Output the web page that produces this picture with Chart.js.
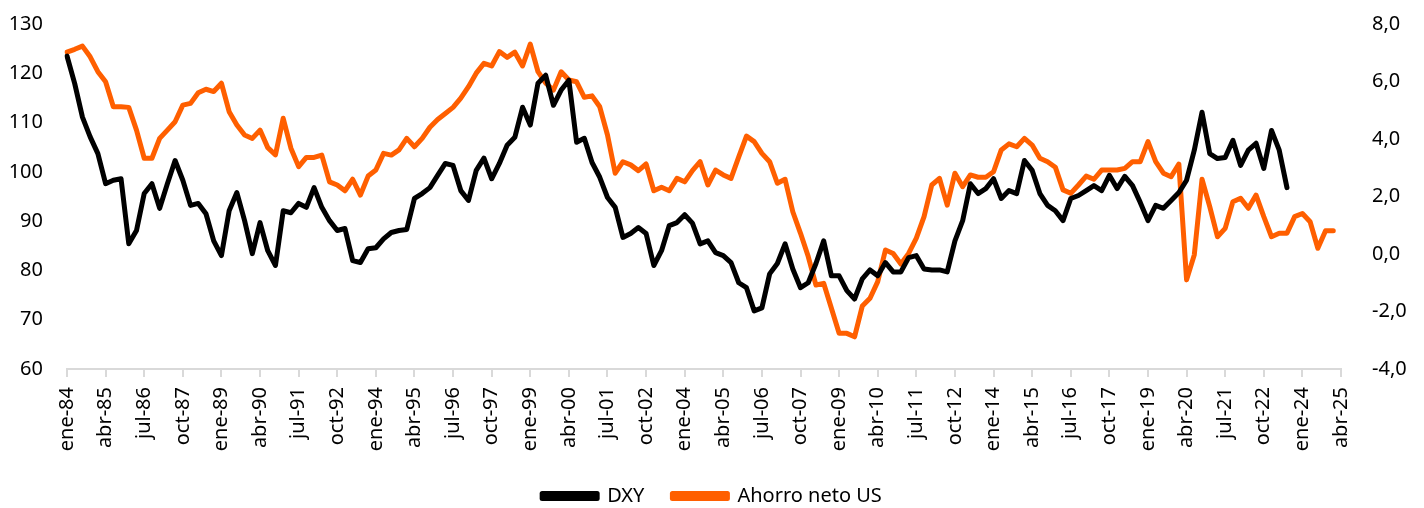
<!DOCTYPE html>
<html>
<head>
<meta charset="utf-8">
<script src="https://cdn.jsdelivr.net/npm/chart.js@4/dist/chart.umd.min.js"></script>
<style>
  html, body { margin: 0; padding: 0; background: #fff; }
  #wrap { width: 1424px; height: 508px; }
</style>
</head>
<body>
<div id="wrap"><canvas id="myChart" width="1424" height="508"></canvas></div>
<script>
// trimestres ene-84 ... abr-25
const months = ['ene', 'abr', 'jul', 'oct'];
const labels = [];
for (let y = 1984; y <= 2025; y++) {
    months.forEach(m => labels.push(m + '-' + String(y % 100).padStart(2, '0')));
}
labels.length = 166;

// DXY (eje izquierdo)
const dxy = [
    123.5, 117.9, 111.1, 107.1, 103.7, 97.6, 98.3, 98.6, 85.4, 88.1,
    95.6, 97.6, 92.6, 97.6, 102.3, 98.3, 93.2, 93.6, 91.5, 86.0,
    83.0, 92.1, 95.8, 90.1, 83.4, 89.7, 84.0, 81.0, 92.1, 91.7,
    93.6, 92.8, 96.8, 92.8, 90.1, 88.1, 88.5, 82.0, 81.6, 84.4,
    84.6, 86.4, 87.7, 88.1, 88.3, 94.6, 95.6, 96.8, 99.3, 101.7,
    101.3, 96.2, 94.2, 100.3, 102.8, 98.6, 101.7, 105.4, 107.0, 113.1,
    109.5, 118.0, 119.6, 113.5, 116.6, 118.6, 106.0, 106.8, 101.9, 98.9,
    94.8, 92.8, 86.7, 87.5, 88.7, 87.5, 81.0, 84.0, 89.1, 89.7,
    91.3, 89.6, 85.4, 86.0, 83.6, 83.0, 81.6, 77.5, 76.5, 71.8,
    72.4, 79.3, 81.4, 85.4, 80.3, 76.5, 77.5, 81.4, 86.0, 78.9,
    78.9, 75.9, 74.2, 78.3, 80.1, 78.9, 81.6, 79.7, 79.7, 82.6,
    83.0, 80.3, 80.1, 80.1, 79.7, 86.0, 90.1, 97.6, 95.6, 96.6,
    98.6, 94.6, 96.2, 95.6, 102.3, 100.3, 95.6, 93.2, 92.1, 90.1,
    94.6, 95.2, 96.2, 97.2, 96.2, 99.3, 96.6, 99.1, 97.2, 93.8,
    90.1, 93.2, 92.6, 94.2, 95.8, 98.3, 104.4, 112.1, 103.7, 102.7,
    102.9, 106.4, 101.3, 104.4, 105.8, 100.7, 108.4, 104.4, 96.8
];

// Ahorro neto US (eje derecho)
const ahorro = [
    7.02, 7.12, 7.23, 6.86, 6.34, 5.99, 5.12, 5.12, 5.10, 4.31,
    3.33, 3.33, 4.02, 4.31, 4.60, 5.18, 5.24, 5.61, 5.73, 5.65,
    5.94, 4.95, 4.49, 4.14, 4.02, 4.31, 3.70, 3.45, 4.72, 3.68,
    3.04, 3.36, 3.36, 3.44, 2.51, 2.40, 2.20, 2.60, 2.05, 2.71,
    2.92, 3.50, 3.44, 3.62, 4.02, 3.73, 4.02, 4.41, 4.68, 4.89,
    5.10, 5.42, 5.82, 6.29, 6.63, 6.54, 7.04, 6.84, 7.02, 6.54,
    7.30, 6.34, 5.94, 5.70, 6.34, 6.05, 5.99, 5.45, 5.50, 5.12,
    4.14, 2.81, 3.21, 3.10, 2.90, 3.13, 2.20, 2.32, 2.20, 2.63,
    2.51, 2.90, 3.21, 2.40, 2.92, 2.75, 2.63, 3.38, 4.10, 3.91,
    3.50, 3.21, 2.46, 2.60, 1.47, 0.72, -0.09, -1.08, -1.02, -1.89,
    -2.76, -2.76, -2.88, -1.81, -1.54, -0.96, 0.14, 0.02, -0.35, 0.02,
    0.55, 1.30, 2.40, 2.63, 1.70, 2.81, 2.34, 2.75, 2.67, 2.67,
    2.86, 3.62, 3.83, 3.73, 4.02, 3.79, 3.33, 3.21, 3.02, 2.23,
    2.11, 2.40, 2.71, 2.60, 2.92, 2.92, 2.92, 2.98, 3.21, 3.21,
    3.91, 3.21, 2.81, 2.69, 3.13, -0.90, -0.03, 2.60, 1.65, 0.60,
    0.89, 1.82, 1.94, 1.59, 2.05, 1.30, 0.60, 0.72, 0.72, 1.30,
    1.41, 1.12, 0.20, 0.81, 0.81
];

const FONT = { family: "'Noto Sans', 'Open Sans', sans-serif", size: 20 };
const AXIS_GRAY = '#d9d9d9';

// ancho fijo del eje y sin relleno vertical extra
function fixWidth(w) {
    return function (scale) {
        scale.width = w;
        scale.paddingTop = 0;
        scale.paddingBottom = 0;
    };
}

const ctx = document.getElementById('myChart').getContext('2d');
const myChart = new Chart(ctx, {
    type: 'line',
    data: {
        labels: labels,
        datasets: [{
            label: 'DXY',
            data: dxy,
            yAxisID: 'y',
            borderColor: '#000000',
            backgroundColor: '#000000',
            borderWidth: 5,
            borderJoinStyle: 'round',
            borderCapStyle: 'round',
            pointRadius: 0,
            fill: false,
        }, {
            label: 'Ahorro neto US',
            data: ahorro,
            yAxisID: 'y2',
            borderColor: '#FF5F00',
            backgroundColor: '#FF5F00',
            borderWidth: 5,
            borderJoinStyle: 'round',
            borderCapStyle: 'round',
            pointRadius: 0,
            fill: false,
        }]
    },
    options: {
        responsive: false,
        animation: false,
        layout: { padding: { top: 24, bottom: 0, left: 0, right: 0 } },
        plugins: {
            tooltip: { enabled: false },
            legend: {
                position: 'bottom',
                maxHeight: 50,
                labels: {
                    color: '#000',
                    font: FONT,
                    boxWidth: 55,
                    boxHeight: 5,
                    padding: 28,
                }
            }
        },
        scales: {
            x: {
                offset: false,
                border: { display: true, color: AXIS_GRAY, width: 2 },
                grid: { drawOnChartArea: false, drawTicks: true, tickLength: 8, color: AXIS_GRAY, lineWidth: 2 },
                ticks: {
                    autoSkip: false,
                    minRotation: 90,
                    maxRotation: 90,
                    padding: 10,
                    color: '#000',
                    font: FONT,
                    callback: function (value, index) {
                        return index % 5 === 0 ? labels[index] : null;
                    }
                },
                afterFit: function (scale) { scale.height = 89; }
            },
            y: {
                position: 'left',
                min: 60,
                max: 130,
                border: { display: false },
                grid: { display: false, drawTicks: false },
                ticks: { stepSize: 10, padding: 24, color: '#000', font: FONT },
                afterFit: fixWidth(67)
            },
            y2: {
                position: 'right',
                min: -4,
                max: 8,
                border: { display: false },
                grid: { display: false, drawTicks: false },
                ticks: {
                    stepSize: 2,
                    padding: 31,
                    color: '#000',
                    font: FONT,
                    callback: function (value) { return value.toFixed(1).replace('.', ','); }
                },
                afterFit: fixWidth(83)
            }
        }
    }
});
</script>
</body>
</html>
